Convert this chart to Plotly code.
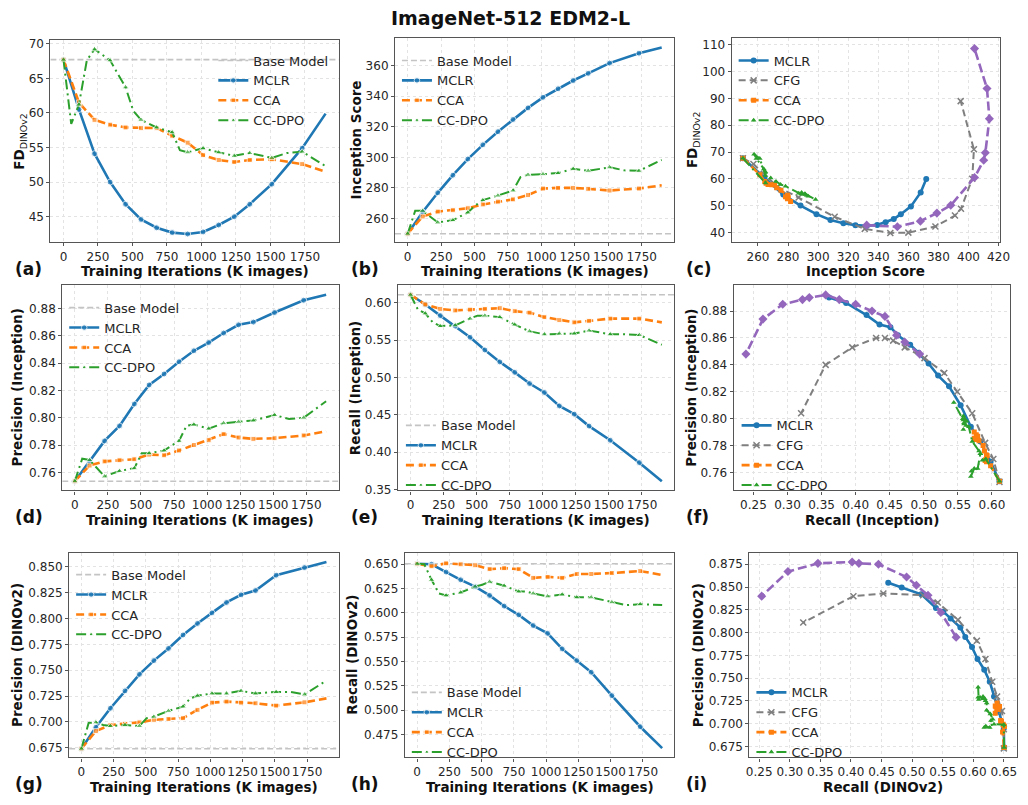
import plotly.graph_objects as go

W, H = 1028, 805

# ---------------- data ----------------
ITER_M = [0, 112, 225, 338, 450, 562, 675, 788, 900, 1012, 1125, 1238, 1350, 1510, 1730, 1900]
ITER_D = [0, 56, 112, 169, 225, 338, 450, 506, 562, 675, 788, 844, 900, 1012, 1125, 1238, 1350, 1510, 1620, 1730, 1900]
X_RANGE = [-95, 1995]

BASE_FD = 67.7
BASE_IS = 250.0
BASE_P = 0.7535
BASE_R = 0.611
BASE_PD = 0.674
BASE_RD = 0.6505

# MCLR (on ITER_M)
MCLR_FD = [67.7, 60.5, 54.1, 50.0, 46.8, 44.6, 43.4, 42.7, 42.5, 42.8, 43.8, 45.0, 46.8, 49.7, 54.9, 59.9]
MCLR_IS = [250.0, 264.3, 276.8, 288.3, 298.9, 308.2, 316.8, 324.8, 332.4, 339.3, 344.9, 350.3, 355.0, 361.7, 368.2, 371.9]
MCLR_P = [0.7535, 0.768, 0.783, 0.794, 0.810, 0.824, 0.832, 0.841, 0.849, 0.855, 0.862, 0.868, 0.870, 0.877, 0.886, 0.890]
MCLR_R = [0.611, 0.598, 0.583, 0.569, 0.554, 0.537, 0.521, 0.507, 0.492, 0.480, 0.462, 0.451, 0.435, 0.416, 0.386, 0.361]
MCLR_PD = [0.674, 0.6947, 0.7132, 0.7300, 0.7460, 0.7593, 0.7711, 0.7841, 0.7953, 0.8055, 0.8156, 0.8230, 0.8271, 0.8420, 0.8494, 0.8548]
MCLR_RD = [0.6505, 0.650, 0.642, 0.634, 0.627, 0.618, 0.607, 0.598, 0.587, 0.579, 0.563, 0.551, 0.539, 0.515, 0.483, 0.461]

# CCA (on ITER_M)
CCA_FD = [67.7, 61.5, 59.0, 58.3, 57.9, 57.8, 57.8, 56.7, 55.7, 53.9, 53.2, 52.9, 53.2, 53.3, 52.6, 51.5]
CCA_IS = [250.0, 261.3, 264.5, 265.4, 266.7, 269.2, 271.0, 272.5, 275.3, 279.6, 280.0, 280.0, 279.4, 278.3, 279.6, 281.7]
CCA_P = [0.7535, 0.765, 0.768, 0.7689, 0.7696, 0.773, 0.7725, 0.776, 0.780, 0.7835, 0.788, 0.7855, 0.7845, 0.785, 0.787, 0.790]
CCA_R = [0.611, 0.598, 0.592, 0.590, 0.591, 0.592, 0.593, 0.589, 0.587, 0.581, 0.577, 0.574, 0.576, 0.579, 0.579, 0.574]
CCA_PD = [0.674, 0.691, 0.697, 0.698, 0.6995, 0.702, 0.7027, 0.7036, 0.7116, 0.7186, 0.7196, 0.7186, 0.718, 0.7157, 0.7189, 0.7227]
CCA_RD = [0.6505, 0.648, 0.651, 0.650, 0.649, 0.645, 0.646, 0.645, 0.636, 0.637, 0.636, 0.640, 0.640, 0.641, 0.643, 0.639]

# CC-DPO (on ITER_D)
DPO_FD = [67.7, 58.4, 61.2, 67.6, 69.2, 67.6, 63.7, 60.3, 59.0, 57.9, 57.2, 54.6, 54.3, 54.9, 54.3, 53.8, 54.2, 53.5, 54.2, 54.4, 52.3]
DPO_IS = [250.0, 265.0, 265.0, 261.2, 257.4, 258.9, 263.9, 268.5, 272.0, 275.0, 278.3, 287.1, 288.6, 289.0, 289.7, 292.5, 291.2, 293.5, 291.5, 291.2, 298.3]
DPO_P = [0.7535, 0.770, 0.769, 0.763, 0.757, 0.761, 0.763, 0.774, 0.774, 0.776, 0.783, 0.794, 0.795, 0.792, 0.796, 0.797, 0.798, 0.802, 0.799, 0.800, 0.812]
DPO_R = [0.611, 0.591, 0.586, 0.574, 0.569, 0.570, 0.579, 0.583, 0.583, 0.581, 0.571, 0.566, 0.562, 0.558, 0.559, 0.559, 0.563, 0.558, 0.558, 0.557, 0.544]
DPO_PD = [0.674, 0.699, 0.6995, 0.697, 0.696, 0.697, 0.696, 0.7036, 0.705, 0.7106, 0.7148, 0.7227, 0.7253, 0.7275, 0.7275, 0.730, 0.7275, 0.729, 0.729, 0.7265, 0.740]
DPO_RD = [0.6505, 0.650, 0.634, 0.620, 0.618, 0.621, 0.627, 0.629, 0.632, 0.628, 0.622, 0.622, 0.620, 0.617, 0.619, 0.616, 0.616, 0.611, 0.608, 0.609, 0.608]

# CFG sweeps
CFG_C_IS = [250.0, 257.0, 273.0, 287.0, 311.0, 331.0, 348.0, 360.0, 378.0, 391.0, 395.0, 402.5, 403.6, 394.8]
CFG_C_FD = [67.7, 65.5, 57.0, 53.0, 45.8, 41.3, 39.8, 39.9, 42.2, 46.3, 48.8, 60.0, 71.0, 89.0]
CFG_F_R = [0.611, 0.602, 0.590, 0.571, 0.549, 0.530, 0.501, 0.472, 0.455, 0.443, 0.430, 0.395, 0.356, 0.320]
CFG_F_P = [0.753, 0.770, 0.782, 0.804, 0.820, 0.834, 0.845, 0.853, 0.858, 0.860, 0.860, 0.853, 0.840, 0.804]
CFG_I_R = [0.650, 0.650, 0.647, 0.639, 0.631, 0.620, 0.606, 0.575, 0.542, 0.518, 0.453, 0.404, 0.322]
CFG_I_P = [0.673, 0.694, 0.714, 0.730, 0.746, 0.771, 0.791, 0.814, 0.833, 0.841, 0.843, 0.840, 0.811]

# MCLR checkpoint + CFG sweep (purple, unlabeled)
PUR_C_IS = [332.3, 352.7, 368.0, 379.0, 388.2, 404.0, 410.1, 411.2, 413.9, 412.3, 404.0]
PUR_C_FD = [42.7, 42.1, 44.2, 47.2, 50.1, 60.5, 66.9, 69.7, 82.4, 93.7, 108.6]
PUR_F_R = [0.494, 0.472, 0.460, 0.443, 0.424, 0.400, 0.376, 0.356, 0.332, 0.322, 0.293, 0.264, 0.239]
PUR_F_P = [0.848, 0.857, 0.862, 0.876, 0.880, 0.885, 0.8885, 0.892, 0.890, 0.8885, 0.885, 0.874, 0.848]
PUR_I_R = [0.572, 0.547, 0.526, 0.507, 0.491, 0.445, 0.413, 0.402, 0.346, 0.297, 0.254]
PUR_I_P = [0.795, 0.822, 0.841, 0.852, 0.861, 0.875, 0.876, 0.8775, 0.876, 0.867, 0.840]

TITLE = "ImageNet-512 EDM2-L"
X_ITER_TITLE = "Training Iterations (K images)"

# ---------------- styling ----------------
BLUE = '#1f77b4'
ORANGE = '#ff7f0e'
GREEN = '#2ca02c'
GRAY = '#7f7f7f'
PURPLE = '#9467bd'
BASEC = '#c4c4c4'
FONT = 'DejaVu Sans'
DASH_CCA = '8px,4px'
DASH_DPO = '10px,4px,2px,4px'
DASH_CFG = '7px,4px'
DASH_PUR = '9px,4px'
DASH_BASE = '6px,3px'

MARKED = set(ITER_M[:-1])


def msizes(xs, s):
    return [s if x in MARKED else 0 for x in xs]


def px(p):
    return p / W


def py(p):
    return 1 - p / H


panels = [
    dict(k='a', xd=(48, 340), yd=(37, 242), xr=X_RANGE, yr=[41.3, 70.6], xt=list(range(0, 1751, 250)), yt=[45, 50, 55, 60, 65, 70], yf='d', xf='d',
         xtitle=X_ITER_TITLE, ytitle='<b>FD</b><sub>DINOv2</sub>', ytx=17, lab='(a)', labx=10, laby=269, leg=(257, 53)),
    dict(k='b', xd=(397, 680), yd=(35, 242), xr=X_RANGE, yr=[244.4, 378.4], xt=list(range(0, 1751, 250)), yt=[260, 280, 300, 320, 340, 360], yf='d', xf='d',
         xtitle=X_ITER_TITLE, ytitle='<b>Inception Score</b>', ytx=357, lab='(b)', labx=350, laby=269, leg=(443, 53)),
    dict(k='c', xd=(738, 1010), yd=(35, 242), xr=[242.5, 421.1], yr=[36.3, 112.7], xt=list(range(260, 421, 20)), yt=list(range(40, 111, 10)), yf='d', xf='d',
         xtitle='Inception Score', ytitle='<b>FD</b><sub>DINOv2</sub>', ytx=699, lab='(c)', labx=690, laby=269, leg=(784, 53)),
    dict(k='d', xd=(60, 340), yd=(285, 493), xr=X_RANGE, yr=[0.7467, 0.8973], xt=list(range(0, 1751, 250)), yt=[0.76, 0.78, 0.80, 0.82, 0.84, 0.86, 0.88], yf='.2f', xf='d',
         xtitle=X_ITER_TITLE, ytitle='<b>Precision (Inception)</b>', ytx=14, lab='(d)', labx=10, laby=520, leg=(106, 303)),
    dict(k='e', xd=(400, 680), yd=(285, 493), xr=X_RANGE, yr=[0.3487, 0.6243], xt=list(range(0, 1751, 250)), yt=[0.35, 0.40, 0.45, 0.50, 0.55, 0.60], yf='.2f', xf='d',
         xtitle=X_ITER_TITLE, ytitle='<b>Recall (Inception)</b>', ytx=356, lab='(e)', labx=350, laby=520, leg=(447, 422)),
    dict(k='f', xd=(740, 1020), yd=(285, 493), xr=[0.221, 0.6266], yr=[0.7466, 0.8995], xt=[0.25, 0.30, 0.35, 0.40, 0.45, 0.50, 0.55, 0.60], yt=[0.76, 0.78, 0.80, 0.82, 0.84, 0.86, 0.88], yf='.2f', xf='.2f',
         xtitle='Recall (Inception)', ytitle='<b>Precision (Inception)</b>', ytx=696, lab='(f)', labx=690, laby=520, leg=(787, 422)),
    dict(k='g', xd=(67, 340), yd=(556, 763), xr=X_RANGE, yr=[0.6655, 0.8637], xt=list(range(0, 1751, 250)), yt=[0.675, 0.700, 0.725, 0.750, 0.775, 0.800, 0.825, 0.850], yf='.3f', xf='d',
         xtitle=X_ITER_TITLE, ytitle='<b>Precision (DINOv2)</b>', ytx=14, lab='(g)', labx=10, laby=790, leg=(113, 573)),
    dict(k='h', xd=(407, 680), yd=(556, 763), xr=X_RANGE, yr=[0.4514, 0.6618], xt=list(range(0, 1751, 250)), yt=[0.475, 0.500, 0.525, 0.550, 0.575, 0.600, 0.625, 0.650], yf='.3f', xf='d',
         xtitle=X_ITER_TITLE, ytitle='<b>Recall (DINOv2)</b>', ytx=354, lab='(h)', labx=350, laby=790, leg=(453, 692)),
    dict(k='i', xd=(756, 1027), yd=(556, 763), xr=[0.234, 0.6716], yr=[0.663, 0.8876], xt=[0.25, 0.30, 0.35, 0.40, 0.45, 0.50, 0.55, 0.60, 0.65], yt=[0.675, 0.700, 0.725, 0.750, 0.775, 0.800, 0.825, 0.850, 0.875], yf='.3f', xf='.2f',
         xtitle='Recall (DINOv2)', ytitle='<b>Precision (DINOv2)</b>', ytx=704, lab='(i)', labx=690, laby=790, leg=(802, 692)),
]

fig = go.Figure()
annotations = []
layout = {}


def axid(i):
    return ('', '') if i == 0 else (str(i + 1), str(i + 1))


def line_trace(x, y, name, color, dash, width, symbol, size, xa, ya, leg, showlegend=True, mline=None):
    marker = dict(symbol=symbol, size=size, color=color)
    if mline:
        marker['line'] = dict(width=mline, color=color)
    return go.Scatter(x=x, y=y, name=name, mode='lines+markers' if symbol else 'lines',
                      line=dict(color=color, dash=dash, width=width), marker=marker,
                      xaxis=xa, yaxis=ya, legend=leg, showlegend=showlegend, hoverinfo='skip')


series_iter = {
    'a': (BASE_FD, MCLR_FD, CCA_FD, DPO_FD),
    'b': (BASE_IS, MCLR_IS, CCA_IS, DPO_IS),
    'd': (BASE_P, MCLR_P, CCA_P, DPO_P),
    'e': (BASE_R, MCLR_R, CCA_R, DPO_R),
    'g': (BASE_PD, MCLR_PD, CCA_PD, DPO_PD),
    'h': (BASE_RD, MCLR_RD, CCA_RD, DPO_RD),
}
series_xy = {
    'c': ((MCLR_IS, MCLR_FD), (CFG_C_IS, CFG_C_FD), (CCA_IS, CCA_FD), (DPO_IS, DPO_FD), (PUR_C_IS, PUR_C_FD)),
    'f': ((MCLR_R, MCLR_P), (CFG_F_R, CFG_F_P), (CCA_R, CCA_P), (DPO_R, DPO_P), (PUR_F_R, PUR_F_P)),
    'i': ((MCLR_RD, MCLR_PD), (CFG_I_R, CFG_I_P), (CCA_RD, CCA_PD), (DPO_RD, DPO_PD), (PUR_I_R, PUR_I_P)),
}

for i, p in enumerate(panels):
    sx, sy = axid(i)
    xa, ya = 'x' + sx, 'y' + sy
    leg = 'legend' if i == 0 else 'legend' + str(i + 1)
    axcommon = dict(showline=True, mirror=True, linecolor='#555555', linewidth=1.1,
                    ticks='outside', ticklen=3, tickcolor='#555555', tickangle=0,
                    tickfont=dict(family=FONT, size=12, color='#262626'),
                    showgrid=True, gridcolor='#e3e3e3', griddash='dot', gridwidth=1, zeroline=False)
    layout['xaxis' + sx] = dict(axcommon, domain=[px(p['xd'][0]), px(p['xd'][1])], range=p['xr'],
                                tickvals=p['xt'], tickformat=p['xf'], anchor=ya)
    layout['yaxis' + sy] = dict(axcommon, domain=[py(p['yd'][1]), py(p['yd'][0])], range=p['yr'],
                                tickvals=p['yt'], tickformat=p['yf'], anchor=xa)
    tx, ty = p['leg']
    layout[leg] = dict(x=px(tx - 44), y=py(ty - 10), xanchor='left', yanchor='top',
                       bgcolor='rgba(0,0,0,0)', borderwidth=0,
                       font=dict(family=FONT, size=13, color='#262626'), tracegroupgap=0)

    k = p['k']
    if k in series_iter:
        base, m, c, d = series_iter[k]
        fig.add_trace(line_trace(X_RANGE, [base, base], 'Base Model', BASEC, DASH_BASE, 1.6, None, 0, xa, ya, leg))
        fig.add_trace(line_trace(ITER_M, m, 'MCLR', BLUE, 'solid', 2.6, 'circle', msizes(ITER_M, 6), xa, ya, leg))
        fig.add_trace(line_trace(ITER_M, c, 'CCA', ORANGE, DASH_CCA, 2.6, 'square', msizes(ITER_M, 5), xa, ya, leg))
        fig.add_trace(line_trace(ITER_D, d, 'CC-DPO', GREEN, DASH_DPO, 2.0, 'triangle-up', msizes(ITER_D, 6), xa, ya, leg))
    else:
        (mx, my), (fx, fy), (cx, cy), (dx, dy), (ux, uy) = series_xy[k]
        fig.add_trace(line_trace(mx, my, 'MCLR', BLUE, 'solid', 2.6, 'circle', 6, xa, ya, leg))
        fig.add_trace(line_trace(fx, fy, 'CFG', GRAY, DASH_CFG, 2.0, 'x-thin', 6, xa, ya, leg, mline=1.5))
        fig.add_trace(line_trace(cx, cy, 'CCA', ORANGE, DASH_CCA, 2.6, 'square', 5, xa, ya, leg))
        fig.add_trace(line_trace(dx, dy, 'CC-DPO', GREEN, DASH_DPO, 2.0, 'triangle-up', 5, xa, ya, leg))
        fig.add_trace(line_trace(ux, uy, 'MCLR+CFG', PURPLE, DASH_PUR, 2.6, 'diamond', 7, xa, ya, leg, showlegend=False))

    xc = (p['xd'][0] + p['xd'][1]) / 2
    yc = (p['yd'][0] + p['yd'][1]) / 2
    annotations.append(dict(text='<b>' + p['xtitle'] + '</b>', x=px(xc), y=py(p['laby'] + 2.5), xref='paper', yref='paper',
                            xanchor='center', yanchor='middle', showarrow=False,
                            font=dict(family=FONT, size=13.5, color='#111111')))
    annotations.append(dict(text=p['ytitle'], x=px(p['ytx']), y=py(yc), xref='paper', yref='paper',
                            xanchor='center', yanchor='middle', showarrow=False, textangle=-90,
                            font=dict(family=FONT, size=13.5, color='#111111')))
    annotations.append(dict(text='<b>' + p['lab'] + '</b>', x=px(p['labx']), y=py(p['laby']), xref='paper', yref='paper',
                            xanchor='left', yanchor='middle', showarrow=False,
                            font=dict(family=FONT, size=17, color='#111111')))

annotations.append(dict(text='<b>' + TITLE + '</b>', x=px(514), y=py(15), xref='paper', yref='paper',
                        xanchor='center', yanchor='middle', showarrow=False,
                        font=dict(family=FONT, size=19, color='#111111')))

fig.update_layout(width=W, height=H, margin=dict(l=0, r=0, t=0, b=0), paper_bgcolor='white',
                  plot_bgcolor='white', annotations=annotations, font=dict(family=FONT), **layout)

fig.write_html('out.html')
